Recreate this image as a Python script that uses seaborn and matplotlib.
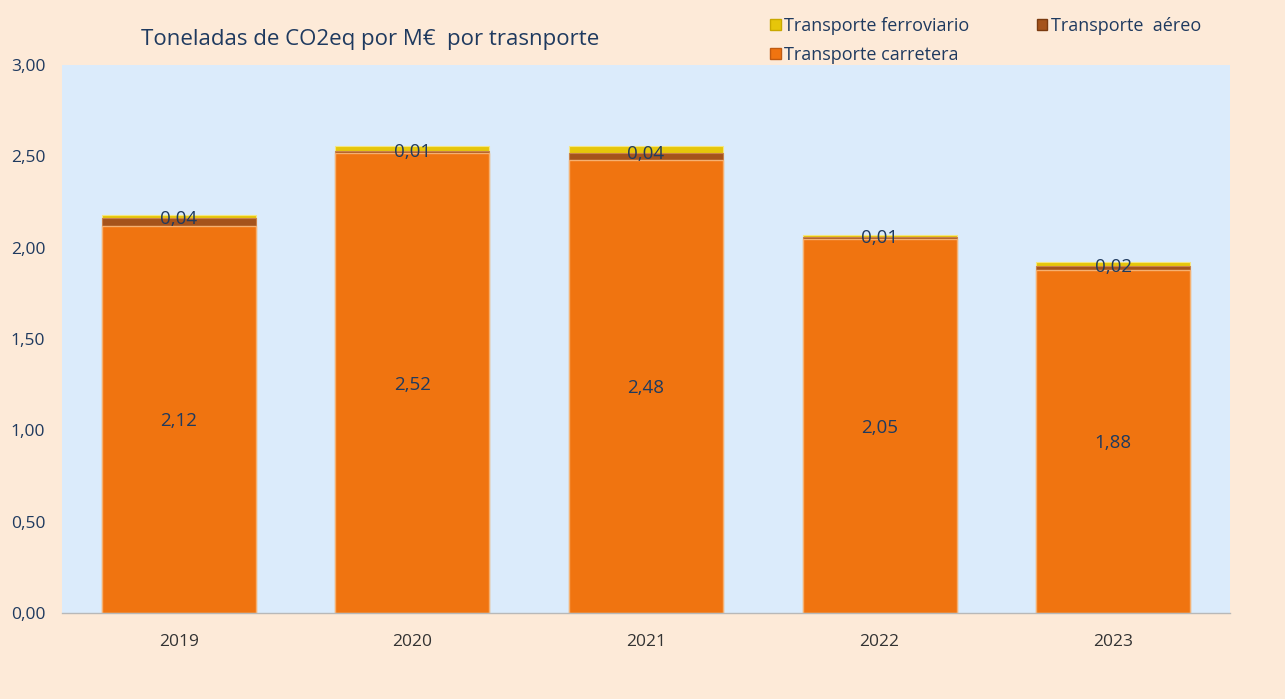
import matplotlib
matplotlib.use("Agg")
import matplotlib.pyplot as plt
import seaborn as sns
import pandas as pd
import numpy as np
from matplotlib.patches import Patch

years = ["2019", "2020", "2021", "2022", "2023"]
carretera = [2.12, 2.52, 2.48, 2.05, 1.88]
aereo = [0.04, 0.01, 0.04, 0.01, 0.02]
ferroviario = [0.02, 0.025, 0.035, 0.012, 0.02]
aereo_labels = ["0,04", "0,01", "0,04", "0,01", "0,02"]
carretera_labels = ["2,12", "2,52", "2,48", "2,05", "1,88"]

sns.set_theme(style="white")
plt.rcParams["font.family"] = ["Open Sans", "DejaVu Sans"]

bg = "#FDEAD8"
axbg = "#DBEBFB"
c_car = "#F07410"
c_aer = "#A5531B"
c_fer = "#E6C60A"
txt = "#1F3A5F"

df = pd.DataFrame({"year": years, "carretera": carretera, "aereo": aereo, "ferroviario": ferroviario})
df["t1"] = df["carretera"]
df["t2"] = df["t1"] + df["aereo"]
df["t3"] = df["t2"] + df["ferroviario"]

fig = plt.figure(figsize=(12.85, 6.99), dpi=100, facecolor=bg)
ax = fig.add_axes([62 / 1285, 1 - 613 / 699, (1230 - 62) / 1285, (613 - 65) / 699])
ax.set_facecolor(axbg)

w = 0.66
sns.barplot(data=df, x="year", y="t3", color=c_fer, width=w, ax=ax, saturation=1, edgecolor="#F5E680", linewidth=0.8)
sns.barplot(data=df, x="year", y="t2", color=c_aer, width=w, ax=ax, saturation=1, edgecolor="#C9804A", linewidth=0.8)
sns.barplot(data=df, x="year", y="t1", color=c_car, width=w, ax=ax, saturation=1, edgecolor="#F6B070", linewidth=1.0)

for i in range(len(years)):
    ax.text(i, carretera[i] / 2 - 0.01, carretera_labels[i], ha="center", va="center", fontsize=13.5, color=txt)
    ax.text(i, df["t2"][i] - 0.005, aereo_labels[i], ha="center", va="center", fontsize=13.5, color=txt)

ax.set_ylim(0, 3.0)
ax.set_xlim(-0.5, 4.5)
yt = [0, 0.5, 1.0, 1.5, 2.0, 2.5, 3.0]
ax.set_yticks(yt)
ax.set_yticklabels([f"{v:.2f}".replace(".", ",") for v in yt], fontsize=12.5, color=txt)
ax.tick_params(axis="y", pad=12, length=0)
ax.tick_params(axis="x", labelsize=12.5, colors="#333333", pad=15, length=0)
ax.set_xlabel("")
ax.set_ylabel("")
for s in ["top", "right", "left"]:
    ax.spines[s].set_visible(False)
ax.spines["bottom"].set_color("#B8B8B8")
ax.spines["bottom"].set_linewidth(1)

fig.text(370 / 1285, 1 - 40 / 699, "Toneladas de CO2eq por M€  por trasnporte", ha="center", va="center",
         fontsize=16, color=txt)

handles = [Patch(facecolor=c_fer, edgecolor="#C9A800"), Patch(facecolor=c_car, edgecolor="#C05A10"),
           Patch(facecolor=c_aer, edgecolor="#7A3A10")]
labels = ["Transporte ferroviario", "Transporte carretera", "Transporte  aéreo"]
leg = fig.legend(handles, labels, ncol=2, loc="upper left", bbox_to_anchor=(761 / 1285, 1 - 8 / 699),
                 frameon=False, fontsize=13, labelcolor=txt, handlelength=0.6, handleheight=0.6,
                 handletextpad=0.2, columnspacing=3.7, labelspacing=0.6, borderpad=0)

fig.savefig("out.png", dpi=100, facecolor=bg)
